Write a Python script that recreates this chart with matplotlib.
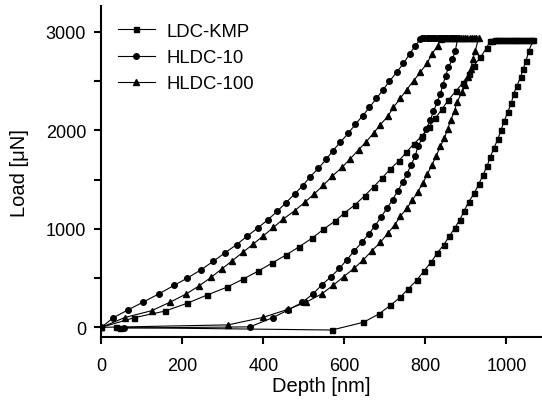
import numpy as np
import matplotlib
matplotlib.use("Agg")
import matplotlib.pyplot as plt
from matplotlib.ticker import MultipleLocator

plt.rcParams["font.family"] = ["Liberation Sans", "DejaVu Sans"]

# LDC-KMP (squares): loading, hold, unloading
kmp_depth = [0, 81, 157, 212, 262, 309, 349, 386, 421, 456, 489, 520, 548, 577,
             600, 627, 650, 672, 693, 713, 734, 753, 771, 792, 808, 824, 841,
             857, 876, 892, 907, 919, 936, 951, 960,
             965, 971, 977, 983, 989, 995, 1001, 1007, 1013, 1019, 1025, 1031,
             1037, 1043, 1049, 1055, 1061, 1067,
             1055, 1049, 1041, 1035, 1026, 1018, 1012, 1003, 995, 987, 979,
             969, 960, 952, 942, 932, 921, 907, 896, 885, 872, 859, 845, 829,
             815, 797, 779, 758, 738, 713, 685, 647, 569, 46, 37]
kmp_load = [0, 98, 165, 245, 330, 406, 488, 568, 652, 735, 820, 905, 994, 1080,
            1160, 1247, 1336, 1426, 1515, 1607, 1688, 1777, 1861, 1945, 2030,
            2121, 2215, 2310, 2402, 2480, 2572, 2656, 2741, 2836, 2910,
            2912, 2913, 2914, 2914, 2915, 2915, 2916, 2916, 2916, 2917, 2917,
            2917, 2918, 2918, 2918, 2918, 2919, 2919,
            2808, 2707, 2622, 2538, 2453, 2369, 2274, 2183, 2097, 2006, 1912,
            1817, 1726, 1634, 1546, 1455, 1363, 1275, 1184, 1092, 1005, 924,
            836, 754, 666, 575, 480, 393, 305, 222, 135, 51, -27, -2, 3]

# HLDC-10 (circles)
h10_depth = [0, 29, 66, 103, 142, 179, 212, 246, 276, 305, 334, 360, 386, 411,
             434, 456, 477, 497, 516, 536, 555, 572, 590, 610, 627, 645, 662,
             679, 695, 711, 730, 746, 761, 775, 787,
             792, 797, 803, 808, 814, 819, 825, 830, 836, 841, 847, 852, 858,
             863, 869, 874, 880,
             874, 867, 857, 850, 843, 837, 829, 820, 812, 802, 792, 782, 775,
             765, 754, 744, 732, 719, 705, 691, 676, 660, 643, 625, 606, 588,
             567, 544, 522, 496, 462, 424, 367, 56]
h10_load = [0, 96, 178, 256, 340, 425, 500, 584, 670, 756, 840, 926, 1008, 1092,
            1178, 1267, 1353, 1438, 1531, 1615, 1705, 1795, 1880, 1973, 2061,
            2148, 2233, 2325, 2409, 2497, 2595, 2680, 2775, 2859, 2925,
            2936, 2937, 2937, 2938, 2938, 2938, 2939, 2939, 2939, 2940, 2940,
            2940, 2940, 2941, 2941, 2941, 2941,
            2808, 2724, 2640, 2554, 2460, 2369, 2284, 2193, 2105, 2013, 1922,
            1838, 1742, 1648, 1556, 1472, 1387, 1296, 1208, 1123, 1032, 947,
            863, 778, 686, 599, 514, 429, 338, 254, 178, 100, 5, -7]

# HLDC-100 (triangles)
h100_depth = [0, 58, 124, 169, 209, 242, 271, 297, 323, 349, 375, 400, 425, 449,
              477, 502, 525, 548, 570, 594, 614, 635, 654, 672, 688, 707, 721,
              738, 754, 771, 787, 804, 816, 830, 838,
              843, 849, 854, 860, 865, 871, 876, 882, 887, 893, 898, 904, 909,
              915, 920, 926, 932,
              923, 917, 912, 906, 899, 890, 878, 872, 863, 855, 847, 837, 827,
              816, 805, 794, 781, 768, 754, 738, 724, 707, 689, 668, 647, 624,
              598, 573, 544, 505, 460, 399, 313, 0]
h100_load = [0, 100, 169, 254, 338, 423, 508, 592, 676, 761, 846, 930, 1015,
             1099, 1184, 1269, 1353, 1442, 1535, 1624, 1709, 1803, 1884, 1973,
             2054, 2142, 2233, 2325, 2415, 2504, 2589, 2680, 2775, 2859, 2925,
             2936, 2937, 2937, 2938, 2938, 2938, 2939, 2939, 2939, 2940, 2940,
             2940, 2940, 2941, 2941, 2941, 2941,
             2808, 2724, 2622, 2538, 2460, 2386, 2284, 2199, 2108, 2013, 1922,
             1838, 1742, 1648, 1556, 1465, 1377, 1290, 1208, 1127, 1039, 954,
             863, 778, 686, 599, 514, 429, 340, 254, 182, 101, 25, 0]

series = [
    ("LDC-KMP", kmp_depth, kmp_load, "s", 3.6),
    ("HLDC-10", h10_depth, h10_load, "o", 4.0),
    ("HLDC-100", h100_depth, h100_load, "^", 4.6),
]

fig = plt.figure(figsize=(5.42, 4.06), dpi=100)
ax = fig.add_axes([0.187, 0.167, 0.813, 0.815])

for label, d, l, m, ms in series:
    ax.plot(d, l, color="black", lw=0.8, marker=m, ms=ms,
            markerfacecolor="black", markeredgecolor="black", label=label)

ax.set_xlim(0, 1088)
ax.set_ylim(-100, 3260)
ax.xaxis.set_major_locator(MultipleLocator(200))
ax.yaxis.set_major_locator(MultipleLocator(1000))
ax.yaxis.set_minor_locator(MultipleLocator(500))

for side in ("top", "right"):
    ax.spines[side].set_visible(False)
for side in ("left", "bottom"):
    ax.spines[side].set_linewidth(1.5)

ax.tick_params(which="major", direction="out", length=5, width=1.5,
               labelsize=13)
ax.tick_params(which="minor", direction="out", length=5, width=1.5)
ax.tick_params(axis="x", pad=9.5)
ax.tick_params(axis="y", pad=6)

ax.set_xlabel("Depth [nm]", fontsize=14.5, labelpad=1)
ax.set_ylabel("Load [\u03bcN]", fontsize=14.5, labelpad=12)

ax.legend(loc="upper left", frameon=False, fontsize=13.3, handlelength=2.0,
          handletextpad=0.65, labelspacing=0.5, borderaxespad=0.5,
          borderpad=0.4, bbox_to_anchor=(0.0, 1.0))

fig.savefig("out.png", dpi=100)
